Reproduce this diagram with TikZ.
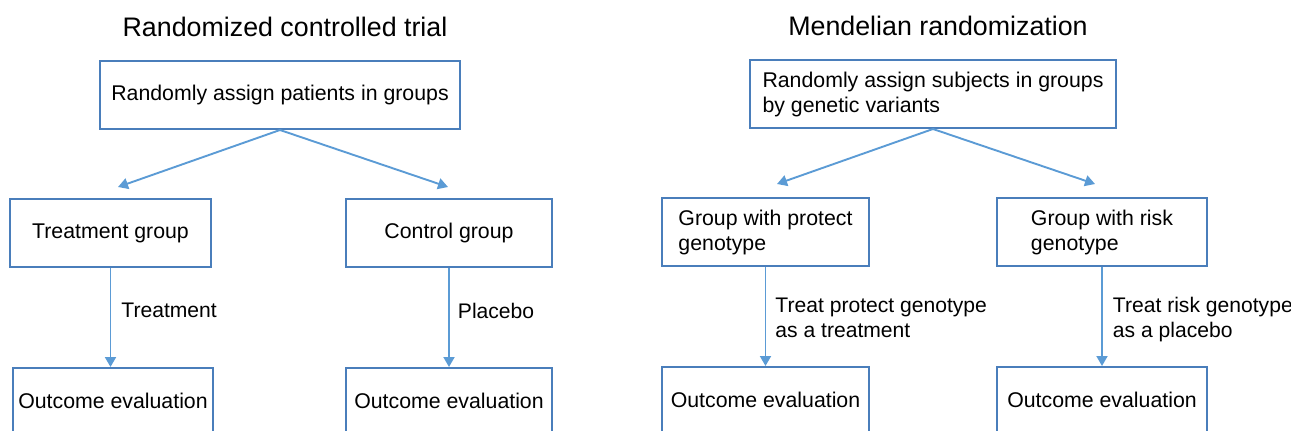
\documentclass[tikz,border=0pt]{standalone}
\usepackage{fontspec}
\setmainfont{Liberation Sans}
\usetikzlibrary{arrows.meta}
\definecolor{boxblue}{RGB}{74,126,187}
\definecolor{arrowblue}{RGB}{91,155,213}
\tikzset{
    stagebox/.style={draw=boxblue, line width=2pt, minimum height=68pt, inner sep=0pt, align=left, font=\fontsize{21.3}{25}\selectfont},
    flow/.style={draw=arrowblue, line width=1.9pt, -{Triangle[length=10pt, width=11pt]}},
    steplabel/.style={anchor=west, inner sep=0pt, align=left, font=\fontsize{21.1}{25}\selectfont},
    heading/.style={font=\fontsize{26.8}{30}\selectfont}
}
\begin{document}
\begin{tikzpicture}[x=1pt, y=-1pt]
    \useasboundingbox (0, 0) rectangle (1291, 431);

    % Titles
    \node[heading] (titleRCT) at (285, 27) {Randomized controlled trial};
    \node[heading] (titleMR) at (938, 26) {Mendelian randomization};

    % Randomized controlled trial boxes
    \node[stagebox, minimum width=360pt] (assignRCT) at (280, 95) {Randomly assign patients in groups};
    \node[stagebox, minimum width=201pt] (treatGroup) at (110.5, 233) {Treatment group};
    \node[stagebox, minimum width=206pt] (controlGroup) at (449, 233) {Control group};
    \node[stagebox, minimum width=200pt, minimum height=66pt] (outcomeTreat) at (113, 401) {Outcome evaluation};
    \node[stagebox, minimum width=206pt, minimum height=66pt] (outcomeControl) at (449, 401) {Outcome evaluation};

    % Mendelian randomization boxes
    \node[stagebox, minimum width=366pt] (assignMR) at (933, 94) {Randomly assign subjects in groups\\by genetic variants};
    \node[stagebox, minimum width=207pt] (protectGroup) at (765.5, 232) {Group with protect\\genotype};
    \node[stagebox, minimum width=210pt] (riskGroup) at (1102, 232) {Group with risk\\genotype};
    \node[stagebox, minimum width=207pt, minimum height=66pt] (outcomeProtect) at (765.5, 400) {Outcome evaluation};
    \node[stagebox, minimum width=210pt, minimum height=66pt] (outcomeRisk) at (1102, 400) {Outcome evaluation};

    % Arrow tips above the group boxes
    \coordinate (tipTreat) at (118, 187);
    \coordinate (tipControl) at (448, 187);
    \coordinate (tipProtect) at (777, 184);
    \coordinate (tipRisk) at (1095, 184);

    % Splitting arrows
    \draw[flow] (assignRCT.south) -- (tipTreat);
    \draw[flow] (assignRCT.south) -- (tipControl);
    \draw[flow] (assignMR.south) -- (tipProtect);
    \draw[flow] (assignMR.south) -- (tipRisk);

    % Downward arrows with their labels
    \draw[flow] (treatGroup.south) -- (treatGroup.south |- outcomeTreat.north) node[steplabel, pos=0.43, xshift=10pt] {Treatment};
    \draw[flow] (controlGroup.south) -- (controlGroup.south |- outcomeControl.north) node[steplabel, pos=0.43, xshift=8pt] {Placebo};
    \draw[flow] (protectGroup.south) -- (protectGroup.south |- outcomeProtect.north) node[steplabel, pos=0.51, xshift=9pt] {Treat protect genotype\\as a treatment};
    \draw[flow] (riskGroup.south) -- (riskGroup.south |- outcomeRisk.north) node[steplabel, pos=0.53, xshift=10pt] {Treat risk genotype\\as a placebo};

\end{tikzpicture}
\end{document}
